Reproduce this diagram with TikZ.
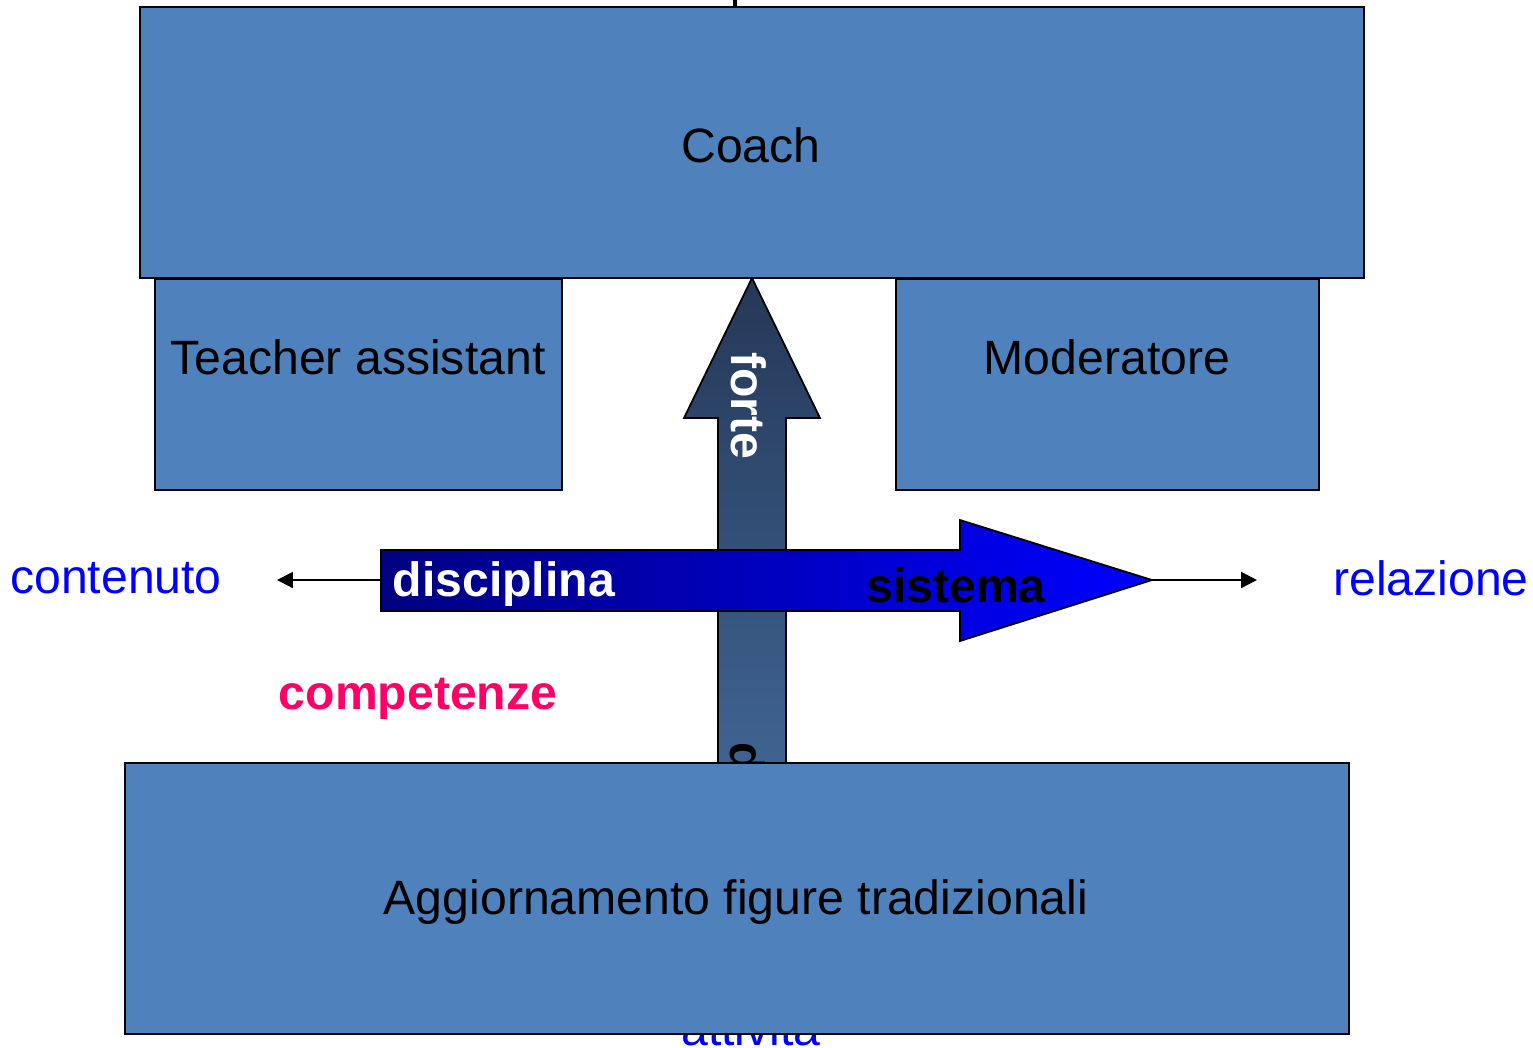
\documentclass[tikz,border=0pt]{standalone}
\usepackage{fontspec}
\setmainfont{Liberation Sans}
\usetikzlibrary{arrows.meta}

\definecolor{blubox}{RGB}{79,129,189}
\definecolor{frecciaalta}{RGB}{37,56,88}
\definecolor{frecciabassa}{RGB}{76,120,172}
\definecolor{bluscuro}{RGB}{0,0,128}
\definecolor{rosa}{RGB}{255,0,102}

\begin{document}
\begin{tikzpicture}[x=0.01cm,y=-0.01cm,
  riquadro/.style={draw=black,fill=blubox,line width=0.6pt,inner sep=0pt,anchor=north west},
  testo/.style={font=\fontsize{13.7}{16}\selectfont,inner sep=0pt},
  grassetto/.style={testo,font=\fontsize{13.7}{16}\selectfont\bfseries},
  polo/.style={testo,text=blue},
  asse/.style={line width=0.6pt,-{Triangle[length=4.5pt,width=4.5pt]}}]
\useasboundingbox (0,0) rectangle (1533,1047);

%freccia verticale
\draw[line width=0.5pt,top color=frecciaalta,bottom color=frecciabassa]
  (718,1000) -- (718,418) -- (684,418) -- (752,278) -- (820,418) -- (786,418) -- (786,1000) -- cycle;
\node[grassetto,text=white,rotate=-90] (forte) at (749,406) {forte};
\node[grassetto,rotate=-90,anchor=west] (debole) at (748,742) {debole};
\node[polo,anchor=base] (attivita) at (751,1045) {attività};

%freccia orizzontale
\draw[line width=0.5pt,left color=bluscuro,right color=blue]
  (381,550) -- (960,550) -- (960,520) -- (1152,580) -- (960,641) -- (960,611) -- (381,611) -- cycle;
\node[grassetto,text=white,anchor=west] (disciplina) at (392,584) {disciplina};
\node[grassetto] (sistema) at (956,585) {sistema};

\coordinate (sx) at (381,580);
\coordinate (sxfine) at (277,580);
\coordinate (dx) at (1152,580);
\coordinate (dxfine) at (1257,580);
\draw[asse] (sx) -- (sxfine);
\draw[asse] (dx) -- (dxfine);

%riquadri
\node[riquadro,minimum width=12.23cm,minimum height=2.71cm] (coach) at (139,6) {};
\node[testo] at (751,145) {Coach};
\coordinate (cima) at (735,0);
\draw[line width=1.3pt] (coach.north -| cima) -- (cima);

\node[riquadro,minimum width=4.07cm,minimum height=2.11cm] (ta) at (154,278) {};
\node[testo] (tatesto) at (358,357) {Teacher assistant};
\node[riquadro,minimum width=4.23cm,minimum height=2.11cm] (mod) at (895,278) {};
\node[testo] (modtesto) at (1107,357) {Moderatore};

\node[riquadro,minimum width=12.23cm,minimum height=2.71cm] (agg) at (124,762) {};
\node[testo] at (736,902) {Aggiornamento figure tradizionali};

\node[polo] (contenuto) at (116,578) {contenuto};
\node[polo] (relazione) at (1431,578) {relazione};
\node[grassetto,text=rosa] (competenze) at (418,699) {competenze};
\end{tikzpicture}
\end{document}
